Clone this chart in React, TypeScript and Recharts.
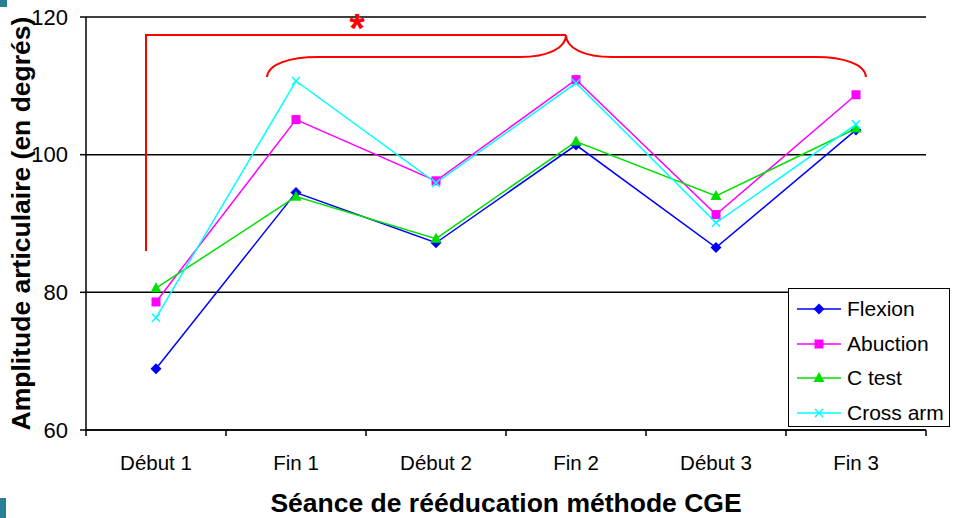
import React from "react"
import { LineChart, Line, XAxis, YAxis, CartesianGrid, Legend } from "recharts"

const categories = ["Début 1", "Fin 1", "Début 2", "Fin 2", "Début 3", "Fin 3"]
const flexion = [68.9, 94.5, 87.2, 101.4, 86.5, 103.6]
const abuction = [78.6, 105.1, 96.2, 110.9, 91.3, 108.7]
const cTest = [80.6, 93.9, 87.8, 101.9, 94.0, 103.8]
const crossArm = [76.3, 110.7, 95.9, 110.4, 90.1, 104.4]
const yTicks = [60, 80, 100, 120]

const data = categories.map((cat, i) => ({
  cat,
  flexion: flexion[i],
  abuction: abuction[i],
  cTest: cTest[i],
  crossArm: crossArm[i],
}))

type Shape = "diamond" | "square" | "triangle" | "cross"

const series: { key: string; name: string; color: string; shape: Shape }[] = [
  { key: "flexion", name: "Flexion", color: "#0000FF", shape: "diamond" },
  { key: "abuction", name: "Abuction", color: "#FF00FF", shape: "square" },
  { key: "cTest", name: "C test", color: "#00E000", shape: "triangle" },
  { key: "crossArm", name: "Cross arm", color: "#00FFFF", shape: "cross" },
]

const FONT = "'Liberation Sans', Arial, sans-serif"
// half of one category slot, used as axis padding and for the boundary ticks
const HALF = 70

function Marker({ cx, cy, shape, color }: { cx: number; cy: number; shape: Shape; color: string }) {
  if (cx == null || cy == null) return null
  switch (shape) {
    case "diamond":
      return <path d={`M${cx},${cy - 5.5}L${cx + 5.5},${cy}L${cx},${cy + 5.5}L${cx - 5.5},${cy}Z`} fill={color} />
    case "square":
      return <rect x={cx - 4.5} y={cy - 4.5} width={9} height={9} fill={color} />
    case "triangle":
      return <path d={`M${cx},${cy - 6}L${cx + 5.5},${cy + 4}L${cx - 5.5},${cy + 4}Z`} fill={color} />
    default:
      return (
        <path
          d={`M${cx - 4},${cy - 4}L${cx + 4},${cy + 4}M${cx + 4},${cy - 4}L${cx - 4},${cy + 4}`}
          stroke={color}
          strokeWidth={1.5}
        />
      )
  }
}

function XTick(props: any) {
  const { x, y, payload, index } = props
  return (
    <g>
      <line x1={x - HALF} y1={y} x2={x - HALF} y2={y + 6} stroke="#000" strokeWidth={1.5} />
      {index === categories.length - 1 && (
        <line x1={x + HALF} y1={y} x2={x + HALF} y2={y + 6} stroke="#000" strokeWidth={1.5} />
      )}
      <text x={x} y={y + 32} textAnchor="middle" dominantBaseline="central" fontSize={20.5} fill="#000" fontFamily={FONT}>
        {payload.value}
      </text>
    </g>
  )
}

function LegendBox() {
  return (
    <div
      style={{
        width: 162,
        height: 139,
        border: "1.5px solid #000",
        background: "#fff",
        boxSizing: "border-box",
        padding: "3px 0 0 8px",
        fontFamily: FONT,
        textAlign: "left",
      }}
    >
      {series.map((s) => (
        <div key={s.key} style={{ display: "flex", alignItems: "center", height: 34.5 }}>
          <svg width={46} height={14}>
            <line x1={0} y1={7} x2={44} y2={7} stroke={s.color} strokeWidth={1.5} />
            <Marker cx={22} cy={7} shape={s.shape} color={s.color} />
          </svg>
          <span style={{ fontSize: 21, marginLeft: 4, color: "#000" }}>{s.name}</span>
        </div>
      ))}
    </div>
  )
}

export default function App() {
  return (
    <div style={{ position: "absolute", left: 0, top: 0, width: 957, height: 518, background: "#fff", fontFamily: FONT }}>
      <div style={{ position: "absolute", left: 0, top: 0, width: 7, height: 7, background: "#2a7f95" }} />
      <div style={{ position: "absolute", left: 0, top: 498, width: 6, height: 20, background: "#2a7f95" }} />
      <LineChart width={957} height={518} data={data} margin={{ top: 17, right: 31, bottom: 0, left: 0 }}>
        <CartesianGrid horizontal vertical={false} stroke="#000" strokeWidth={1.5} />
        <XAxis
          dataKey="cat"
          height={88}
          padding={{ left: HALF, right: HALF }}
          tickSize={0}
          tickMargin={0}
          tickLine={false}
          axisLine={{ stroke: "#000", strokeWidth: 1.5 }}
          tick={<XTick />}
          interval={0}
          label={{
            content: (p: any) => {
              const vb = p.viewBox || { x: 86, width: 840 }
              return (
                <text x={vb.x + vb.width / 2} y={503} textAnchor="middle" dominantBaseline="central" fontSize={26.5} fontWeight="bold" fill="#000" fontFamily={FONT}>
                  Séance de rééducation méthode CGE
                </text>
              )
            },
          }}
        />
        <YAxis
          width={86}
          domain={[60, 120]}
          ticks={yTicks}
          tickSize={6}
          tickMargin={12}
          tick={{ fontSize: 22, fill: "#000", fontFamily: FONT }}
          tickLine={{ stroke: "#000", strokeWidth: 1.5 }}
          axisLine={{ stroke: "#000", strokeWidth: 1.5 }}
          label={{
            content: (p: any) => {
              const vb = p.viewBox || { y: 17, height: 413 }
              const cy = vb.y + vb.height / 2
              return (
                <text transform={`translate(21,${cy}) rotate(-90)`} textAnchor="middle" dominantBaseline="central" fontSize={26.5} fontWeight="bold" fill="#000" fontFamily={FONT}>
                  Amplitude articulaire (en degrés)
                </text>
              )
            },
          }}
        />
        <Legend
          layout="horizontal"
          verticalAlign="middle"
          align="center"
          content={() => <LegendBox />}
          wrapperStyle={{ position: "absolute", left: 788, top: 288, width: 162 }}
        />
        {series.map((s) => (
          <Line
            key={s.key}
            dataKey={s.key}
            name={s.name}
            type="linear"
            stroke={s.color}
            strokeWidth={1.5}
            isAnimationActive={false}
            dot={(p: any) => <Marker key={`${s.key}-${p.index}`} cx={p.cx} cy={p.cy} shape={s.shape} color={s.color} />}
            activeDot={false}
          />
        ))}
      </LineChart>
      <svg width={957} height={518} style={{ position: "absolute", left: 0, top: 0, pointerEvents: "none" }}>
        <g fill="none" stroke="#FF0000" strokeWidth={2}>
          <path d="M146,251 L146,35 L566,35" />
          <path d="M566,35 C566,48 548,57 520,57 L318,57 C290,57 268,64 267,77" />
          <path d="M566,35 C566,48 584,57 612,57 L816,57 C843,57 865,64 866,77" />
        </g>
        <text x={357} y={42} textAnchor="middle" fontSize={40} fontWeight="bold" fill="#FF0000" fontFamily={FONT}>
          *
        </text>
      </svg>
    </div>
  )
}
